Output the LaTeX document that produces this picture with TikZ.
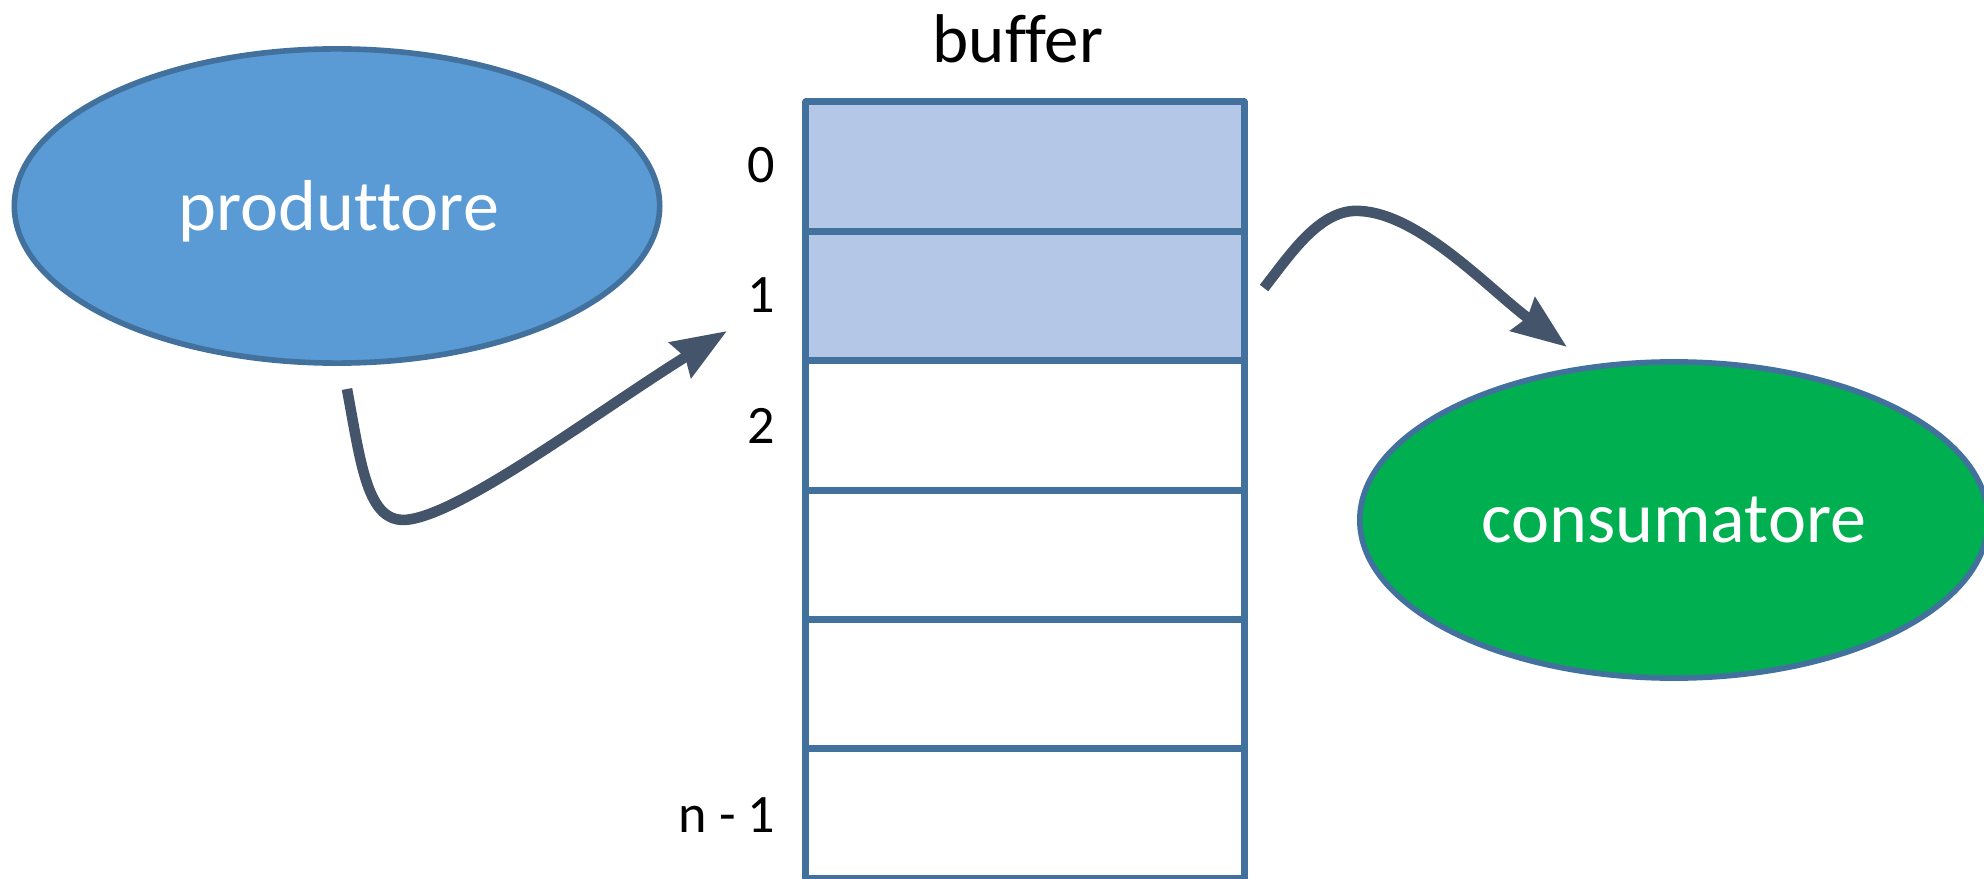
\documentclass[tikz,border=0pt]{standalone}
\usepackage{fontspec}
\setmainfont{Carlito}[Ligatures={NoCommon}]
\usetikzlibrary{shapes.geometric,arrows.meta}
\definecolor{prodfill}{HTML}{5B9BD5}
\definecolor{consfill}{HTML}{00B050}
\definecolor{edgeblue}{HTML}{41719C}
\definecolor{cellfill}{HTML}{B4C7E7}
\definecolor{flowgrey}{HTML}{44546A}
\begin{document}
\begin{tikzpicture}[x=0.01cm,y=-0.01cm,
  proc/.style={ellipse, draw=edgeblue, line width=1.6pt, inner sep=0pt, outer sep=0pt},
  cell/.style={rectangle, draw=edgeblue, line width=2pt, line join=round,
    minimum width=4.38cm, minimum height=1.294cm, inner sep=0pt, outer sep=0pt},
  fullcell/.style={cell, fill=cellfill},
  emptycell/.style={cell, fill=white},
  idx/.style={anchor=base east, inner sep=0pt, font=\fontsize{15.4}{18}\selectfont},
  bigtext/.style={anchor=base, inner sep=0pt, font=\fontsize{20.5}{24}\selectfont},
  flowarrow/.style={draw=flowgrey, line width=3pt,
    -{Stealth[length=15.5pt,width=11.5pt,inset=1.5pt]}}]
\useasboundingbox (0,0) rectangle (1984,879);

% producer and consumer processes
\node[proc, fill=prodfill, minimum width=6.45cm, minimum height=3.14cm] (prod) at (337,206) {};
\node[bigtext, text=white] (prodtxt) at (339,231) {produttore};
\node[proc, fill=consfill, minimum width=6.28cm, minimum height=3.16cm] (cons) at (1674,520) {};
\node[bigtext, text=white] (constxt) at (1674,542) {consumatore};

% circular buffer slots
\node[bigtext, font=\fontsize{19.6}{24}\selectfont] (title) at (1018,63) {buffer};
\node[fullcell]  (cell0) at (1025,166.7) {};
\node[fullcell]  (cell1) at (1025,296.1) {};
\node[emptycell] (cell2) at (1025,425.5) {};
\node[emptycell] (cell3) at (1025,554.9) {};
\node[emptycell] (cell4) at (1025,684.3) {};
\node[emptycell] (cell5) at (1025,813.7) {};

% slot indices
\node[idx] (i0) at (776,183) {0};
\node[idx] (i1) at (776,313) {1};
\node[idx] (i2) at (776,443) {2};
\node[idx] (in) at (776,832) {n - 1};

% put / get arrows
\coordinate (putstart) at (347,389);
\coordinate (putend) at (727,331);
\draw[flowarrow] (putstart) .. controls (362,470) and (368,528) .. (412,519)
  .. controls (470,508) and (600,410) .. (putend);

\coordinate (getstart) at (1264,288);
\coordinate (getend) at (1567,347);
\draw[flowarrow] (getstart) .. controls (1290,255) and (1320,208) .. (1360,211)
  .. controls (1420,214) and (1490,290) .. (getend);
\end{tikzpicture}
\end{document}
